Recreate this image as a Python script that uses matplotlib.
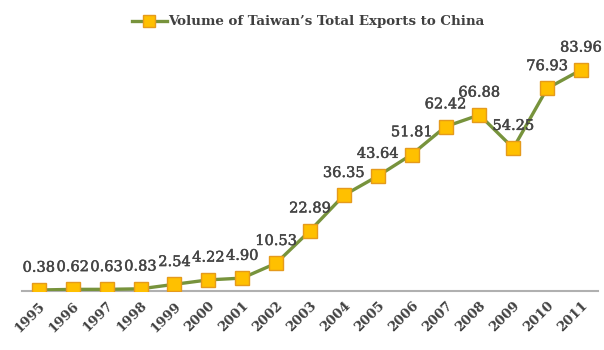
import matplotlib
matplotlib.use("Agg")
import matplotlib.pyplot as plt
from matplotlib.lines import Line2D
import matplotlib.patheffects as pe

years = ["1995", "1996", "1997", "1998", "1999", "2000", "2001", "2002", "2003",
         "2004", "2005", "2006", "2007", "2008", "2009", "2010", "2011"]
values = [0.38, 0.62, 0.63, 0.83, 2.54, 4.22, 4.90, 10.53, 22.89,
          36.35, 43.64, 51.81, 62.42, 66.88, 54.25, 76.93, 83.96]
series_name = "Volume of Taiwan\u2019s Total Exports to China"

plt.rcParams['font.family'] = ['DejaVu Serif']

fig = plt.figure(figsize=(6.04, 3.5), dpi=100)
ax = fig.add_axes([22/604, 59/350, 576/604, 237/350])

x = list(range(len(years)))
line_color = "#77933C"
ax.plot(x, values, color=line_color, lw=2.4, marker='s', markersize=9.5,
        markerfacecolor="#FFC000", markeredgecolor="#E59A1C", markeredgewidth=1.0,
        zorder=3)

label_color = "#444444"
for xi, v in zip(x, values):
    ax.annotate(f"{v:.2f}", (xi, v), xytext=(0, 11), textcoords="offset points",
                ha="center", va="bottom", fontsize=10.5, color=label_color,
                path_effects=[pe.withStroke(linewidth=0.35, foreground=label_color)])

ax.set_xlim(-0.5, len(years) - 0.5)
ax.set_ylim(0, 90)
ax.set_yticks([])
for s in ["top", "right", "left"]:
    ax.spines[s].set_visible(False)
ax.spines["bottom"].set_color("#B0B0B0")
ax.spines["bottom"].set_linewidth(1.5)
ax.set_xticks(x)
ax.set_xticklabels(years, rotation=45, ha="right", rotation_mode="anchor",
                   fontsize=9.5, color="#404040", fontweight="bold")
ax.tick_params(axis="x", length=0, pad=6)

handle = Line2D([0], [0], color=line_color, lw=2.4, marker='s', markersize=8,
                markerfacecolor="#FFC000", markeredgecolor="#E59A1C")
fig.legend([handle], [series_name], loc="center", bbox_to_anchor=(0.51, 1 - 22/350),
           frameon=False, prop={'weight': 'bold', 'size': 9.6},
           handlelength=2.6, handletextpad=0.1, labelcolor="#404040")

fig.savefig("out.png", dpi=100)
